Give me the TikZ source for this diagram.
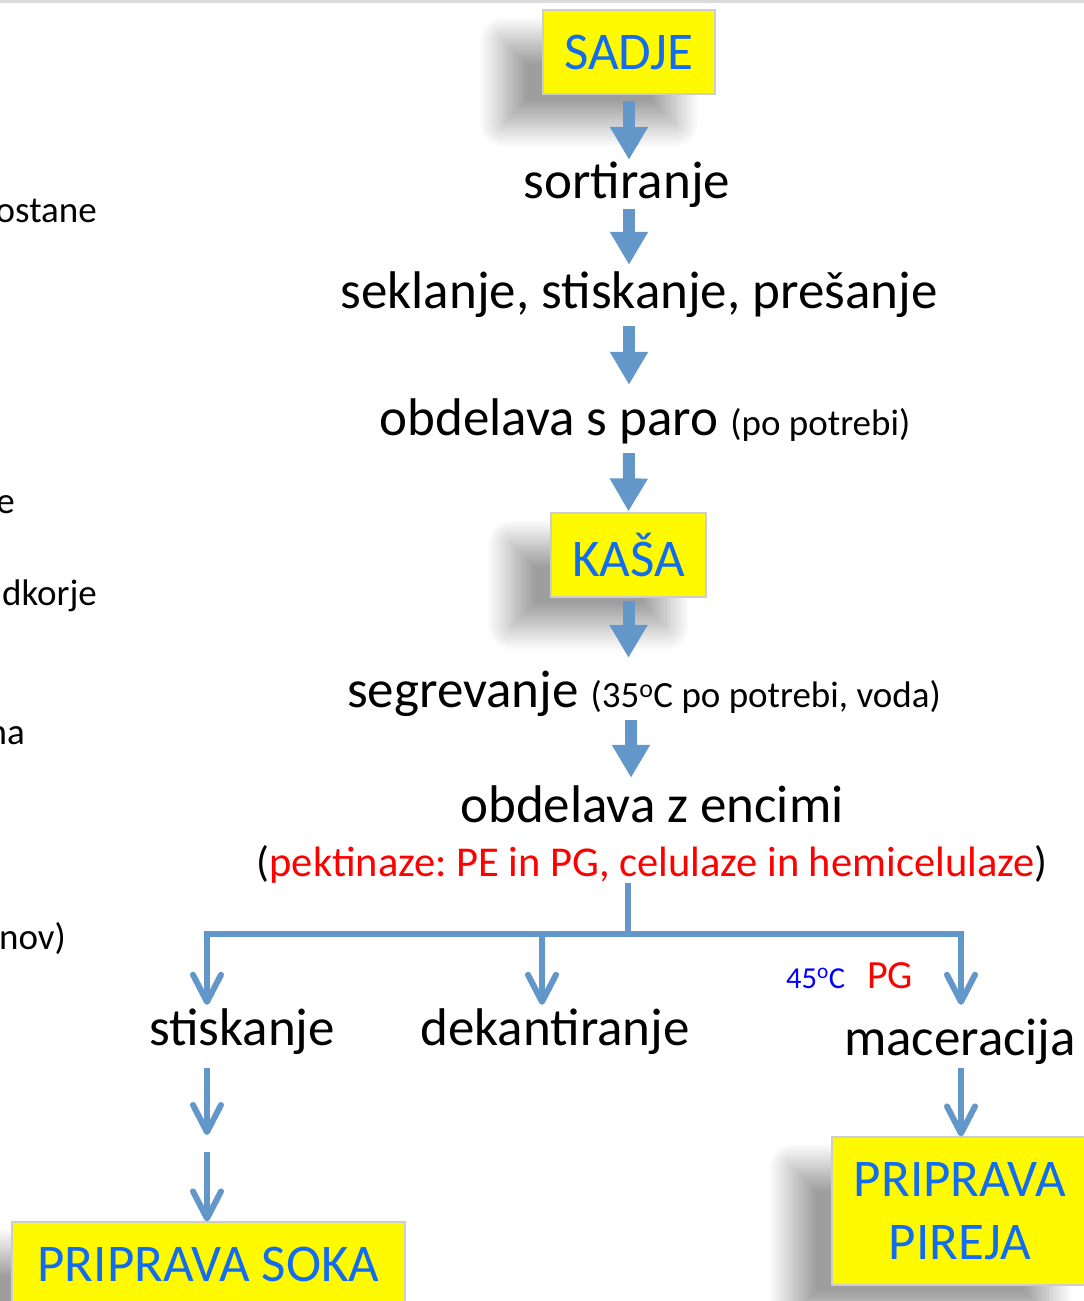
\documentclass[tikz,border=0pt]{standalone}
\usepackage{fontspec}
\setmainfont{Carlito}
\usetikzlibrary{arrows.meta,shadows.blur,positioning}

\definecolor{flowblue}{RGB}{99,150,201}
\definecolor{boxyellow}{RGB}{255,250,0}
\definecolor{boxtext}{RGB}{16,108,240}
\definecolor{boxedge}{RGB}{205,205,205}

\newcommand\flowfont{\fontsize{53}{63}\selectfont}
\newcommand\notefont{\fontsize{37}{44}\selectfont}
\newcommand\redfont{\fontsize{42.5}{50}\selectfont}
\frenchspacing

\tikzset{
  stepbox/.style={draw=boxedge, line width=1.2pt, fill=boxyellow, text=boxtext,
    font=\flowfont, align=center, inner sep=0pt,
    blur shadow={shadow xshift=-40pt, shadow yshift=-30pt,
      shadow blur radius=24pt, shadow blur steps=30, shadow opacity=38}},
  proc/.style={font=\flowfont, inner sep=0pt, anchor=base, text height=36pt, text depth=11pt},
  note/.style={font=\notefont, inner sep=0pt, anchor=base east},
  blockarr/.style={draw=flowblue, line width=12pt, -{Triangle[width=36pt,length=33pt]}},
  branch/.style={draw=flowblue, line width=6pt},
  openarr/.style={branch, -{Straight Barb[width=28pt,length=27pt,round]}},
}

\begin{document}
\begin{tikzpicture}[x=1pt,y=-1pt]
    \useasboundingbox (0,0) rectangle (1084,1301);
    \clip (0,0) rectangle (1084,1301);
    \fill[black!14] (0,0) rectangle (1084,2.5);

    % left column, cut off by the page edge
    \node[note] (n1) at (97,222) {ostane};
    \node[note] (n2) at (15,513) {e};
    \node[note] (n3) at (97,605) {dkorje};
    \node[note] (n4) at (25,744) {na};
    \node[note] (n5) at (66,949) {nov)};

    % main line
    \node[stepbox, minimum width=172pt, minimum height=84pt] (sadje) at (629,52) {SADJE};
    \node[proc] (sort) at (627,198) {sortiranje};
    \node[proc] (sekl) at (639,308) {seklanje, stiskanje, prešanje};
    \node[proc] (paro) at (645,435) {obdelava s paro {\notefont (po potrebi)}};
    \node[stepbox, minimum width=155pt, minimum height=84pt] (kasa) at (628.5,555) {KAŠA};
    \node[proc] (segr) at (644,707) {segrevanje {\notefont (35\textsuperscript{o}C po potrebi, voda)}};
    \node[proc] (enc) at (652,822) {obdelava z encimi};
    \node[font=\redfont, inner sep=0pt, anchor=base] (enzred) at (652,876)
      {(\textcolor{red}{pektinaze: PE in PG, celulaze in hemicelulaze})};

    \coordinate (fork) at (628,934);
    \coordinate (colL) at (207,934);
    \coordinate (colM) at (542,934);
    \coordinate (colR) at (961,934);

    \node[proc] (stisk) at (242,1045) {stiskanje};
    \node[proc] (dek) at (555,1045) {dekantiranje};
    \node[proc] (mac) at (960,1055) {maceracija};
    \node[font=\fontsize{30.5}{36}\selectfont, text=blue, inner sep=0pt, anchor=base west] (temp) at (786,988) {45\textsuperscript{o}C};
    \node[font=\fontsize{40}{48}\selectfont, text=red, inner sep=0pt, anchor=base west] (pg) at (867,988) {PG};

    \coordinate (sokagap) at (207,1135);
    \coordinate (sokatop) at (207,1152);
    \node[stepbox, minimum width=393pt, minimum height=84pt] (soka) at (208.5,1264) {PRIPRAVA SOKA};
    \node[stepbox, minimum width=256pt, minimum height=148pt] (pireja) at (960,1211) {PRIPRAVA\\PIREJA};

    % block arrows
    \draw[blockarr, shorten <=6pt, shorten >=2pt] (sadje.south) -- (sadje.south |- sort.north);
    \draw[blockarr, shorten >=7pt] (sadje.south |- sort.south) -- (sadje.south |- sekl.north);
    \draw[blockarr, shorten <=7pt, shorten >=14pt] (sadje.south |- sekl.south) -- (sadje.south |- paro.north);
    \draw[blockarr, shorten <=7pt, shorten >=1pt] (sadje.south |- paro.south) -- (kasa.north);
    \draw[blockarr, shorten <=3pt, shorten >=13pt] (kasa.south) -- (kasa.south |- segr.north);
    \draw[blockarr, shorten <=2pt, shorten >=8pt] (631,0 |- segr.south) -- (631,0 |- enc.north);

    % branching
    \draw[branch] (enzred.south -| fork) -- (fork);
    \draw[openarr, shorten >=4pt] (fork) -| (colL |- stisk.north);
    \draw[openarr, shorten >=4pt] (colM) -- (colM |- dek.north);
    \draw[openarr, shorten >=14pt] (fork) -| (colR |- mac.north);

    \draw[openarr, shorten <=12pt] (stisk.south -| colL) -- (sokagap);
    \draw[openarr] (sokatop) -- (soka.north -| sokatop);
    \draw[openarr, shorten <=2pt] (mac.south -| colR) -- (pireja.north -| colR);
\end{tikzpicture}
\end{document}
